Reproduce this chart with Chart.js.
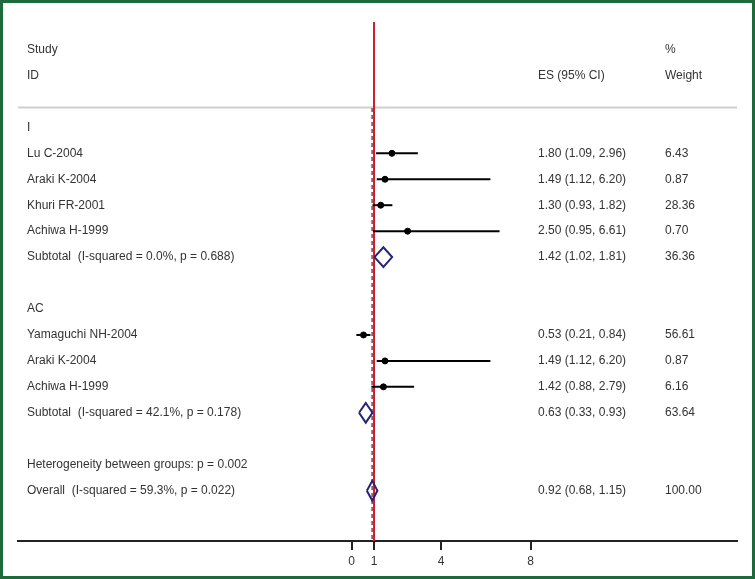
<!DOCTYPE html>
<html>
<head>
<meta charset="utf-8">
<script src="https://cdn.jsdelivr.net/npm/chart.js@4.4.0/dist/chart.umd.min.js"></script>
<style>
  html, body { margin:0; padding:0; background:#fff; }
  #wrap { width:755px; height:579px; position:relative; }
</style>
</head>
<body>
<div id="wrap"><canvas id="forest"></canvas></div>
<script>
// ── Data ─────────────────────────────────────────────────────────────────────
const studyNames  = ['Lu C-2004','Araki K-2004','Khuri FR-2001','Achiwa H-1999','Yamaguchi NH-2004','Araki K-2004','Achiwa H-1999'];
const studyRows   = [4, 5, 6, 7, 11, 12, 13];
const studyEs     = [1.80, 1.49, 1.30, 2.50, 0.53, 1.49, 1.42];
const studyLow    = [1.09, 1.12, 0.93, 0.95, 0.21, 1.12, 0.88];
const studyHigh   = [2.96, 6.20, 1.82, 6.61, 0.84, 6.20, 2.79];
const studyWeight = ['6.43','0.87','28.36','0.70','56.61','0.87','6.16'];

const pooledNames  = ['Subtotal  (I-squared = 0.0%, p = 0.688)','Subtotal  (I-squared = 42.1%, p = 0.178)','Overall  (I-squared = 59.3%, p = 0.022)'];
const pooledRows   = [8, 14, 17];
const pooledEs     = [1.42, 0.63, 0.92];
const pooledLow    = [1.02, 0.33, 0.68];
const pooledHigh   = [1.81, 0.93, 1.15];
const pooledWeight = ['36.36','63.64','100.00'];

const groupLabels = ['I', 'AC', 'Heterogeneity between groups: p = 0.002'];
const groupRows   = [3, 10, 16];

const xTicks = [0, 1, 4, 8];
const X_MIN = -14.91, X_MAX = 17.22;
const Y_MIN = -1.06, Y_MAX = 18.94;
const NULL_VALUE = 1;

// ── Helpers ──────────────────────────────────────────────────────────────────
const fmtCI = (e, l, h) => `${e.toFixed(2)} (${l.toFixed(2)}, ${h.toFixed(2)})`;
const FONT = '12px "Liberation Sans", Arial, sans-serif';
const TXT = '#333333';

const datasets = [];

// separator under header
datasets.push({ data:[{x:X_MIN,y:2.23},{x:X_MAX,y:2.23}], borderColor:'#cfcfcf', borderWidth:2, order:9 });

// null line + overall dashed line
datasets.push({ data:[{x:NULL_VALUE,y:Y_MIN},{x:NULL_VALUE,y:Y_MAX}], borderColor:'#c8202f', borderWidth:2, order:2 });
datasets.push({ data:[{x:pooledEs[2],y:2.25},{x:pooledEs[2],y:Y_MAX}], borderColor:'#b05560', borderWidth:2, borderDash:[4,3], order:3 });

// study CIs
studyRows.forEach((r, i) => {
  datasets.push({ data:[{x:studyLow[i],y:r},{x:studyHigh[i],y:r}], borderColor:'#000', borderWidth:2, order:1 });
});
// study point estimates
datasets.push({
  showLine:false,
  data: studyRows.map((r, i) => ({x:studyEs[i], y:r})),
  pointRadius:3, pointBackgroundColor:'#000', pointBorderColor:'#000', order:0
});
// pooled diamonds
const H = 0.38;
pooledRows.forEach((r, i) => {
  datasets.push({
    data:[
      {x:pooledLow[i], y:r}, {x:pooledEs[i], y:r-H},
      {x:pooledHigh[i], y:r}, {x:pooledEs[i], y:r+H},
      {x:pooledLow[i], y:r}
    ],
    borderColor:'#242478', borderWidth:2, order:0
  });
});

// ── Text columns + frame ─────────────────────────────────────────────────────
const textPlugin = {
  id:'forestText',
  afterDraw(chart){
    const ctx = chart.ctx, ys = chart.scales.y;
    const row = r => ys.getPixelForValue(r);
    ctx.save();
    ctx.font = FONT; ctx.fillStyle = TXT; ctx.textBaseline = 'middle'; ctx.textAlign = 'left';
    const X_ID = 27, X_ES = 538, X_W = 665;

    ctx.fillText('Study', X_ID, row(0));
    ctx.fillText('ID', X_ID, row(1));
    ctx.fillText('ES (95% CI)', X_ES, row(1));
    ctx.fillText('%', X_W, row(0));
    ctx.fillText('Weight', X_W, row(1));

    groupRows.forEach((r, i) => ctx.fillText(groupLabels[i], X_ID, row(r)));
    studyRows.forEach((r, i) => {
      ctx.fillText(studyNames[i], X_ID, row(r));
      ctx.fillText(fmtCI(studyEs[i], studyLow[i], studyHigh[i]), X_ES, row(r));
      ctx.fillText(studyWeight[i], X_W, row(r));
    });
    pooledRows.forEach((r, i) => {
      ctx.fillText(pooledNames[i], X_ID, row(r));
      ctx.fillText(fmtCI(pooledEs[i], pooledLow[i], pooledHigh[i]), X_ES, row(r));
      ctx.fillText(pooledWeight[i], X_W, row(r));
    });

    // green frame
    ctx.strokeStyle = '#1d6b3d'; ctx.lineWidth = 3;
    ctx.strokeRect(1.5, 1.5, chart.width - 3, chart.height - 3);
    ctx.restore();
  }
};

new Chart(document.getElementById('forest').getContext('2d'), {
  type:'scatter',
  data:{ datasets: datasets.map(d => Object.assign({ showLine:true, pointRadius:0, fill:false }, d)) },
  options:{
    responsive:true, maintainAspectRatio:false, animation:false,
    layout:{ padding:{ left:18, right:18, top:22, bottom:0 } },
    plugins:{ legend:{ display:false }, tooltip:{ enabled:false } },
    scales:{
      x:{
        type:'linear', min:X_MIN, max:X_MAX,
        afterBuildTicks: s => { s.ticks = xTicks.map(v => ({ value:v })); },
        afterFit: s => { s.height = 38; },
        grid:{ display:true, drawOnChartArea:false, drawTicks:true, tickLength:9, color:'#222', lineWidth:2 },
        border:{ display:true, color:'#222', width:2 },
        ticks:{ font:{ family:'"Liberation Sans", Arial, sans-serif', size:12 }, color:TXT, padding:4, autoSkip:false, maxRotation:0 }
      },
      y:{ type:'linear', display:false, reverse:true, min:Y_MIN, max:Y_MAX }
    }
  },
  plugins:[textPlugin]
});
</script>
</body>
</html>
